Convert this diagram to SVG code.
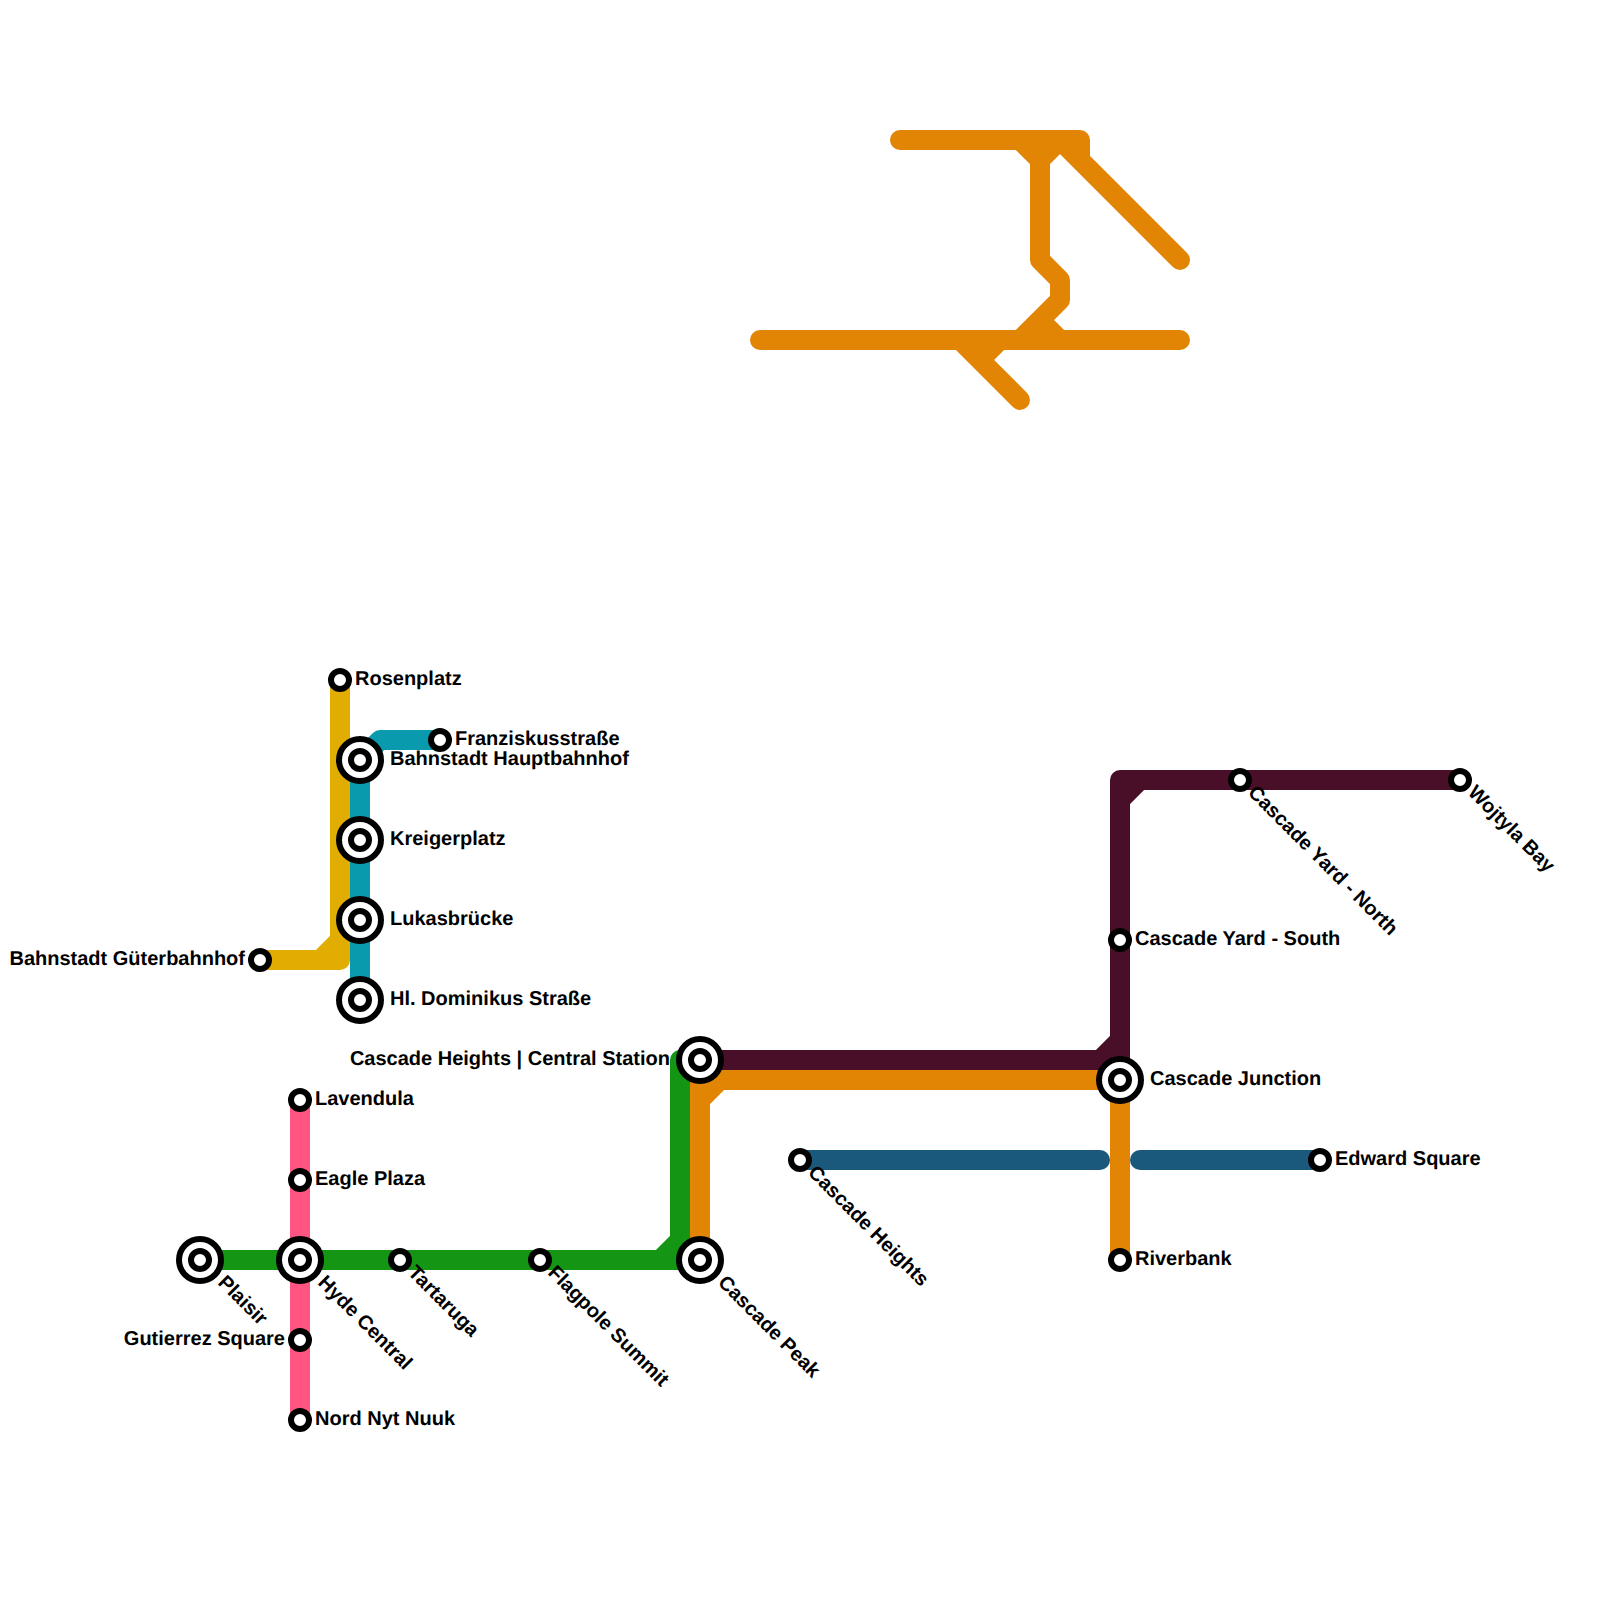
<svg xmlns="http://www.w3.org/2000/svg" width="1600" height="1600" viewBox="0 0 1600 1600">
<style>
.l{fill:none;stroke-width:20;stroke-linecap:round;stroke-linejoin:round}
.b{stroke:#e28505}.g{stroke:#149614}.p{stroke:#4a0f28}.y{stroke:#e0ad00}.t{stroke:#0a9aad}.k{stroke:#ff5580}.n{stroke:#1a587c}
.o{fill:#fff;stroke:#000;stroke-width:6}
text{font-family:"Liberation Sans",Arial,sans-serif;font-weight:700;font-size:20px;fill:#000;text-rendering:geometricPrecision}
.e{text-anchor:end}
</style>
<rect width="1600" height="1600" fill="#fff"/>
<g id="connectors">
<path class="l b" d="M900 140H1080V160M1180 260L1060 140M1020 140L1040 160L1060 140M1040 160V260L1060 280V300L1020 340M1040 320L1060 340M760 340H1180M960 340L1020 400M980 360L1000 340"/>
<path class="l n" d="M800 1160H1100M1140 1160H1320"/>
<path class="l k" d="M300 1100V1420"/>
<path class="l g" d="M200 1260H700M660 1260L680 1240M680 1260V1060H700"/>
<path class="l b" d="M700 1260V1080H1120V1260M700 1100L720 1080"/>
<path class="l p" d="M700 1060H1120V780H1460M1120 800L1140 780M1100 1060L1120 1040"/>
<path class="l t" d="M360 1000V760L380 740H440"/>
<path class="l y" d="M340 680V960H260M320 960L340 940"/>
</g>
<g id="rosenplatz"><circle class="o" cx="340" cy="680" r="9"/><text x="355" y="685">Rosenplatz</text></g>
<g id="guterbahnhof"><circle class="o" cx="260" cy="960" r="9"/><text class="e" x="245" y="965">Bahnstadt Güterbahnhof</text></g>
<g id="franziskus"><circle class="o" cx="440" cy="740" r="9"/><text x="455" y="745">Franziskusstraße</text></g>
<g id="hauptbahnhof"><circle class="o" cx="360" cy="760" r="21"/><circle class="o" cx="360" cy="760" r="9"/><text x="390" y="765">Bahnstadt Hauptbahnhof</text></g>
<g id="kreigerplatz"><circle class="o" cx="360" cy="840" r="21"/><circle class="o" cx="360" cy="840" r="9"/><text x="390" y="845">Kreigerplatz</text></g>
<g id="lukasbrucke"><circle class="o" cx="360" cy="920" r="21"/><circle class="o" cx="360" cy="920" r="9"/><text x="390" y="925">Lukasbrücke</text></g>
<g id="dominikus"><circle class="o" cx="360" cy="1000" r="21"/><circle class="o" cx="360" cy="1000" r="9"/><text x="390" y="1005">Hl. Dominikus Straße</text></g>
<g id="lavendula"><circle class="o" cx="300" cy="1100" r="9"/><text x="315" y="1105">Lavendula</text></g>
<g id="eagle"><circle class="o" cx="300" cy="1180" r="9"/><text x="315" y="1185">Eagle Plaza</text></g>
<g id="gutierrez"><circle class="o" cx="300" cy="1340" r="9"/><text class="e" x="285" y="1345">Gutierrez Square</text></g>
<g id="nord"><circle class="o" cx="300" cy="1420" r="9"/><text x="315" y="1425">Nord Nyt Nuuk</text></g>
<g id="plaisir"><circle class="o" cx="200" cy="1260" r="21"/><circle class="o" cx="200" cy="1260" r="9"/><text transform="translate(217 1283.5) rotate(45)">Plaisir</text></g>
<g id="hyde"><circle class="o" cx="300" cy="1260" r="21"/><circle class="o" cx="300" cy="1260" r="9"/><text transform="translate(317 1283.5) rotate(45)">Hyde Central</text></g>
<g id="tartaruga"><circle class="o" cx="400" cy="1260" r="9"/><text transform="translate(407 1273.5) rotate(45)">Tartaruga</text></g>
<g id="flagpole"><circle class="o" cx="540" cy="1260" r="9"/><text transform="translate(547 1273.5) rotate(45)">Flagpole Summit</text></g>
<g id="peak"><circle class="o" cx="700" cy="1260" r="21"/><circle class="o" cx="700" cy="1260" r="9"/><text transform="translate(717 1283.5) rotate(45)">Cascade Peak</text></g>
<g id="central"><circle class="o" cx="700" cy="1060" r="21"/><circle class="o" cx="700" cy="1060" r="9"/><text class="e" x="670" y="1065">Cascade Heights | Central Station</text></g>
<g id="junction"><circle class="o" cx="1120" cy="1080" r="21"/><circle class="o" cx="1120" cy="1080" r="9"/><text x="1150" y="1085">Cascade Junction</text></g>
<g id="yardsouth"><circle class="o" cx="1120" cy="940" r="9"/><text x="1135" y="945">Cascade Yard - South</text></g>
<g id="yardnorth"><circle class="o" cx="1240" cy="780" r="9"/><text transform="translate(1247 793.5) rotate(45)">Cascade Yard - North</text></g>
<g id="wojtyla"><circle class="o" cx="1460" cy="780" r="9"/><text transform="translate(1467 793.5) rotate(45)">Wojtyla Bay</text></g>
<g id="heights"><circle class="o" cx="800" cy="1160" r="9"/><text transform="translate(807 1173.5) rotate(45)">Cascade Heights</text></g>
<g id="edward"><circle class="o" cx="1320" cy="1160" r="9"/><text x="1335" y="1165">Edward Square</text></g>
<g id="riverbank"><circle class="o" cx="1120" cy="1260" r="9"/><text x="1135" y="1265">Riverbank</text></g>
</svg>
